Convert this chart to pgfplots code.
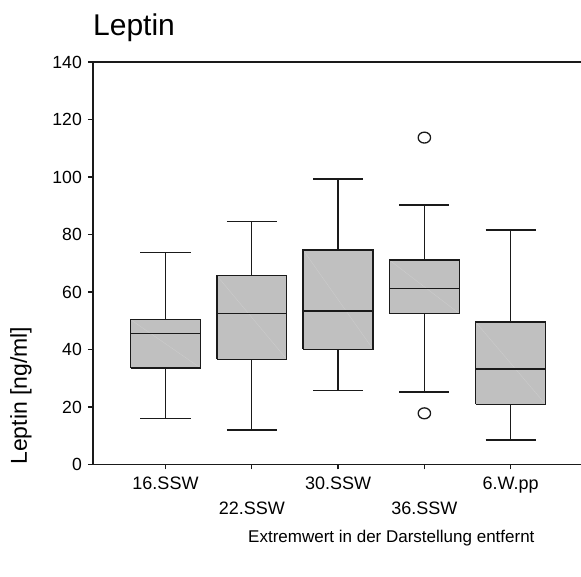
\documentclass[border=0pt]{standalone}
\usepackage{pgfplots}
\pgfplotsset{compat=1.18}
\usepackage{fontspec}
\setmainfont{Liberation Sans}
\definecolor{boxgray}{HTML}{C0C0C0}
\definecolor{diag}{HTML}{CECECE}
\definecolor{lin}{HTML}{1A1A1A}
\begin{document}
\begin{tikzpicture}
\useasboundingbox (-93pt,-112.5pt) rectangle (488pt,464.5pt);
\begin{axis}[
  at={(0pt,0pt)}, anchor=south west,
  scale only axis, width=488pt, height=402.5pt,
  xmin=0.16, xmax=5.815, ymin=0, ymax=140,
  axis x line=box, axis y line=left,
  x axis line style={lin, line width=1.6pt},
  y axis line style={-, lin, line width=2pt},
  xtick={1,2,3,4,5}, xtick pos=left,
  ytick={0,20,...,140},
  tick align=outside, major tick length=5pt,
  tick style={lin, line width=1.3pt},
  xticklabels={16.SSW,\raisebox{-24.5pt}{22.SSW},30.SSW,\raisebox{-24.5pt}{36.SSW},6.W.pp},
  xticklabel style={anchor=base, yshift=-20.5pt, inner sep=0pt, font=\fontsize{18}{20}\selectfont},
  yticklabel style={anchor=east, inner sep=0pt, xshift=-6pt, font=\fontsize{17.6}{20}\selectfont},
  /pgf/number format/assume math mode=true,
  title=Leptin,
  title style={at={(rel axis cs:0,1)}, anchor=base west, yshift=20pt, inner sep=0pt, font=\fontsize{30}{32}\selectfont},
  ylabel={Leptin [ng/ml]},
  ylabel style={at={(rel axis cs:-0.1475,0.171)}, anchor=center, inner sep=0pt, font=\fontsize{23}{25}\selectfont},
  clip=false,
  every axis plot/.append style={line width=1.4pt, lin},
]
% box 1: 16.SSW
\addplot[draw=none, fill=boxgray] coordinates {(0.595,33.6) (1.405,33.6) (1.405,50.4) (0.595,50.4)} -- cycle;
\addplot[diag, line width=0.3pt] coordinates {(0.595,50.4) (1.405,33.6)};
\addplot[lin] coordinates {(0.595,33.6) (1.405,33.6) (1.405,50.4) (0.595,50.4) (0.595,33.6)};
\addplot[lin] coordinates {(0.595,45.5) (1.405,45.5)};
\addplot[lin] coordinates {(1,50.4) (1,73.7)};
\addplot[lin] coordinates {(0.71,73.7) (1.29,73.7)};
\addplot[lin] coordinates {(1,33.6) (1,15.9)};
\addplot[lin] coordinates {(0.71,15.9) (1.29,15.9)};
% box 2: 22.SSW
\addplot[draw=none, fill=boxgray] coordinates {(1.595,36.6) (2.405,36.6) (2.405,65.7) (1.595,65.7)} -- cycle;
\addplot[diag, line width=0.3pt] coordinates {(1.595,65.7) (2.405,36.6)};
\addplot[lin] coordinates {(1.595,36.6) (2.405,36.6) (2.405,65.7) (1.595,65.7) (1.595,36.6)};
\addplot[lin] coordinates {(1.595,52.5) (2.405,52.5)};
\addplot[lin] coordinates {(2,65.7) (2,84.5)};
\addplot[lin] coordinates {(1.71,84.5) (2.29,84.5)};
\addplot[lin] coordinates {(2,36.6) (2,12.0)};
\addplot[lin] coordinates {(1.71,12.0) (2.29,12.0)};
% box 3: 30.SSW
\addplot[draw=none, fill=boxgray] coordinates {(2.595,40.1) (3.405,40.1) (3.405,74.6) (2.595,74.6)} -- cycle;
\addplot[diag, line width=0.3pt] coordinates {(2.595,74.6) (3.405,40.1)};
\addplot[lin] coordinates {(2.595,40.1) (3.405,40.1) (3.405,74.6) (2.595,74.6) (2.595,40.1)};
\addplot[lin] coordinates {(2.595,53.4) (3.405,53.4)};
\addplot[lin] coordinates {(3,74.6) (3,99.3)};
\addplot[lin] coordinates {(2.71,99.3) (3.29,99.3)};
\addplot[lin] coordinates {(3,40.1) (3,25.7)};
\addplot[lin] coordinates {(2.71,25.7) (3.29,25.7)};
% box 4: 36.SSW
\addplot[draw=none, fill=boxgray] coordinates {(3.595,52.5) (4.405,52.5) (4.405,71.1) (3.595,71.1)} -- cycle;
\addplot[diag, line width=0.3pt] coordinates {(3.595,71.1) (4.405,52.5)};
\addplot[lin] coordinates {(3.595,52.5) (4.405,52.5) (4.405,71.1) (3.595,71.1) (3.595,52.5)};
\addplot[lin] coordinates {(3.595,61.3) (4.405,61.3)};
\addplot[lin] coordinates {(4,71.1) (4,90.3)};
\addplot[lin] coordinates {(3.71,90.3) (4.29,90.3)};
\addplot[lin] coordinates {(4,52.5) (4,25.2)};
\addplot[lin] coordinates {(3.71,25.2) (4.29,25.2)};
\addplot[only marks, mark=o, mark size=6.2pt, mark options={solid, lin, line width=1.3pt, yscale=0.88}] coordinates {(4,113.7) (4,17.8)};
% box 5: 6.W.pp
\addplot[draw=none, fill=boxgray] coordinates {(4.595,20.9) (5.405,20.9) (5.405,49.5) (4.595,49.5)} -- cycle;
\addplot[diag, line width=0.3pt] coordinates {(4.595,49.5) (5.405,20.9)};
\addplot[lin] coordinates {(4.595,20.9) (5.405,20.9) (5.405,49.5) (4.595,49.5) (4.595,20.9)};
\addplot[lin] coordinates {(4.595,33.2) (5.405,33.2)};
\addplot[lin] coordinates {(5,49.5) (5,81.6)};
\addplot[lin] coordinates {(4.71,81.6) (5.29,81.6)};
\addplot[lin] coordinates {(5,20.9) (5,8.5)};
\addplot[lin] coordinates {(4.71,8.5) (5.29,8.5)};
\node[anchor=base west, inner sep=0pt, font=\fontsize{17}{19}\selectfont] at ([xshift=155pt, yshift=-78.5pt]rel axis cs:0,0) {Extremwert in der Darstellung entfernt};
\end{axis}
\end{tikzpicture}
\end{document}
